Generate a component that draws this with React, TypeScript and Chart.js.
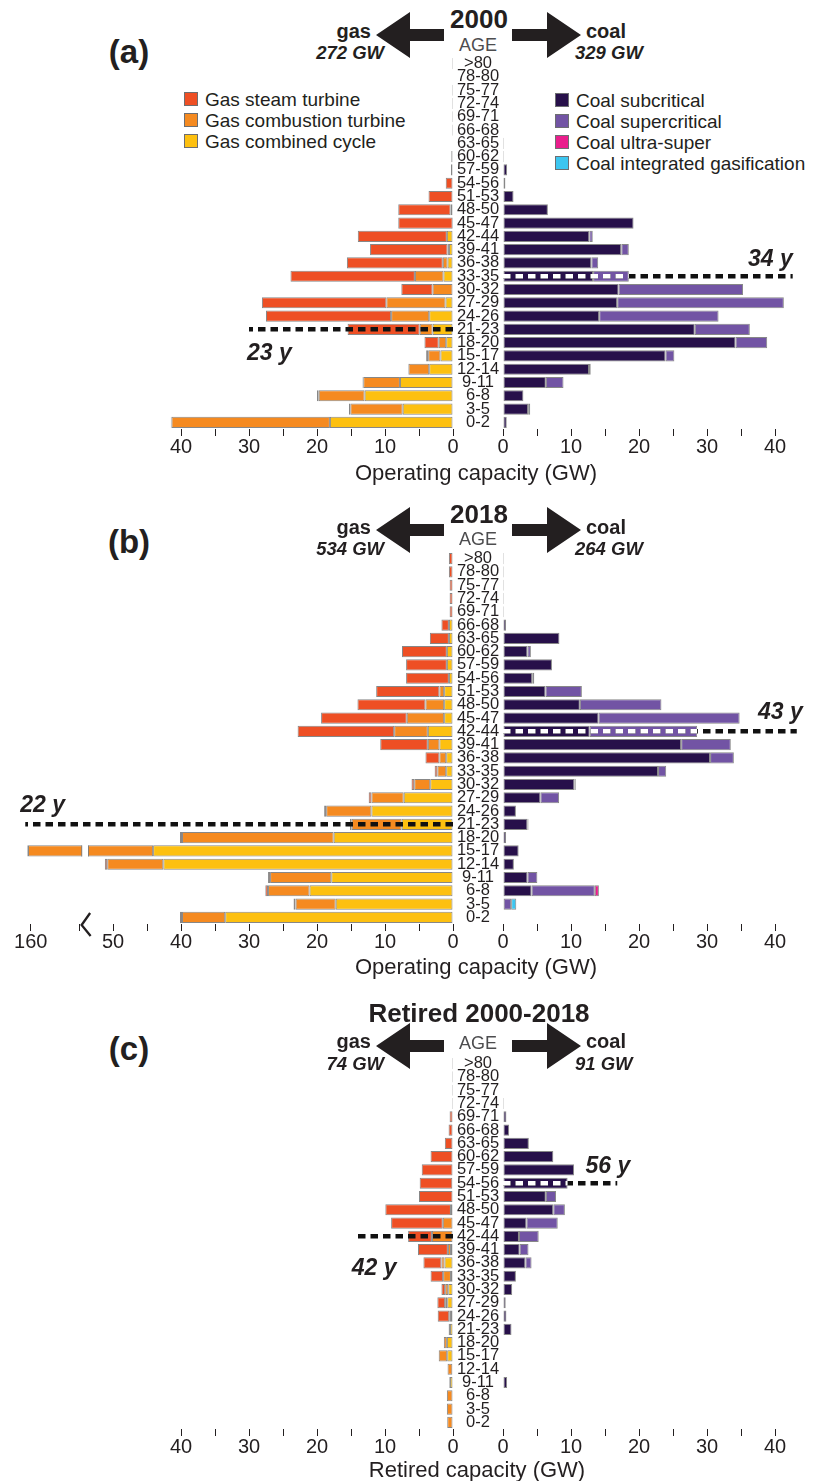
import React, { useEffect, useRef } from 'react';
import { Chart, registerables } from 'chart.js';

Chart.register(...registerables);

const FONT = '"Liberation Sans", Arial, Helvetica, sans-serif';
const FONT_NARROW = '"Liberation Sans Narrow", "Arial Narrow", "Liberation Sans", Arial, sans-serif';

// ---------------- DATA ----------------
const AGES = ['>80', '78-80', '75-77', '72-74', '69-71', '66-68', '63-65', '60-62', '57-59', '54-56',
  '51-53', '48-50', '45-47', '42-44', '39-41', '36-38', '33-35', '30-32', '27-29', '24-26',
  '21-23', '18-20', '15-17', '12-14', '9-11', '6-8', '3-5', '0-2'];

// (a) 2000 operating capacity, GW
const GAS_2000_STEAM = [0.15, 0, 0.15, 0.15, 0.15, 0.15, 0, 0.25, 0.3, 1.07, 3.6, 7.7, 8.0, 13.1, 11.4, 14.1, 18.3, 4.6, 18.3, 18.4, 10.6, 2.1, 0.3, 0.05, 0.1, 0.25, 0.2, 0.1];
const GAS_2000_CT = [0, 0, 0, 0, 0, 0, 0, 0, 0, 0, 0, 0, 0, 0, 0.2, 0.7, 4.2, 3.0, 8.7, 5.6, 1.9, 1.1, 1.8, 3.05, 5.4, 6.75, 7.7, 23.3];
const GAS_2000_CC = [0, 0, 0, 0, 0, 0, 0, 0, 0, 0, 0, 0.35, 0.05, 0.9, 0.6, 0.8, 1.4, 0, 1.1, 3.5, 3.0, 1.0, 1.85, 3.5, 7.8, 13.0, 7.4, 18.1];
const COAL_2000_SUB = [0, 0, 0, 0, 0, 0, 0.15, 0.15, 0.6, 0.35, 1.55, 6.6, 19.2, 12.7, 17.4, 13.0, 13.25, 17.0, 16.8, 14.15, 28.2, 34.2, 23.9, 12.65, 6.3, 3.0, 3.7, 0.55];
const COAL_2000_SUPER = [0, 0, 0, 0, 0, 0, 0, 0, 0, 0, 0, 0, 0, 0.5, 1.1, 1.0, 5.25, 18.3, 24.5, 17.55, 8.1, 4.65, 1.3, 0, 2.6, 0, 0, 0];
const COAL_2000_ULTRA = [0, 0, 0, 0, 0, 0, 0, 0, 0, 0, 0, 0, 0, 0, 0, 0, 0, 0, 0, 0, 0, 0, 0, 0, 0, 0, 0, 0];
const COAL_2000_IGCC = [0, 0, 0, 0, 0, 0, 0, 0, 0, 0, 0, 0, 0, 0, 0, 0, 0, 0, 0, 0, 0, 0, 0, 0.25, 0, 0, 0.3, 0];

// (b) 2018 operating capacity, GW
const GAS_2018_STEAM = [0.6, 0.6, 0.5, 0.5, 0.5, 1.1, 2.8, 6.6, 6.0, 6.3, 9.3, 10.0, 12.6, 14.2, 7.0, 2.05, 0.4, 0.4, 0.4, 0.3, 0.25, 0.3, 0.1, 0.35, 0.3, 0.4, 0.3, 0.3];
const GAS_2018_CT = [0, 0, 0, 0, 0, 0, 0, 0, 0, 0, 0.7, 2.75, 5.5, 4.95, 1.7, 1.0, 1.3, 2.35, 4.75, 6.65, 7.35, 22.3, 116.3, 8.25, 9.0, 6.1, 5.9, 6.35];
const GAS_2018_CC = [0, 0, 0, 0, 0, 0.6, 0.6, 0.9, 0.9, 0.6, 1.3, 1.3, 1.3, 3.7, 2.0, 1.0, 1.0, 3.35, 7.25, 12.0, 7.55, 17.55, 44.1, 42.6, 17.9, 21.1, 17.25, 33.5];
const COAL_2018_SUB = [0.15, 0.15, 0.15, 0.15, 0.15, 0.45, 8.3, 3.6, 7.2, 4.3, 6.25, 11.3, 14.05, 12.75, 26.2, 30.45, 22.8, 10.5, 5.5, 1.9, 3.6, 0.45, 2.3, 1.6, 3.6, 4.2, 0.1, 0];
const COAL_2018_SUPER = [0, 0, 0, 0, 0, 0, 0, 0.5, 0, 0.3, 5.35, 12.0, 20.75, 15.8, 7.3, 3.5, 1.2, 0, 2.75, 0, 0, 0, 0, 0, 1.45, 9.3, 1.1, 0];
const COAL_2018_ULTRA = [0, 0, 0, 0, 0, 0, 0, 0, 0, 0, 0, 0, 0, 0, 0, 0, 0, 0, 0, 0, 0, 0, 0, 0, 0, 0.6, 0, 0];
const COAL_2018_IGCC = [0, 0, 0, 0, 0, 0, 0, 0, 0, 0, 0, 0, 0, 0, 0, 0, 0, 0.2, 0, 0, 0.15, 0, 0, 0, 0, 0, 0.75, 0];

// (c) retired 2000-2018, GW
const GAS_RET_STEAM = [0.15, 0.15, 0.15, 0.15, 0.5, 0.65, 1.2, 3.3, 4.6, 4.8, 5.0, 9.65, 7.6, 3.5, 4.4, 2.65, 1.85, 0.55, 1.15, 1.7, 0.05, 0, 0, 0, 0, 0, 0, 0];
const GAS_RET_CT = [0, 0, 0, 0, 0, 0, 0, 0, 0, 0.1, 0, 0.3, 1.5, 3.1, 0.45, 0.45, 1.15, 0.45, 0.3, 0.25, 0.15, 0.45, 1.25, 0.7, 0.1, 0.9, 0.9, 0.85];
const GAS_RET_CC = [0, 0, 0, 0, 0, 0, 0, 0, 0, 0, 0, 0, 0, 0, 0.3, 1.25, 0.3, 0.7, 0.85, 0.3, 0.45, 0.9, 0.85, 0.1, 0.45, 0, 0, 0];
const COAL_RET_SUB = [0, 0, 0, 0.15, 0.5, 0.9, 3.8, 7.4, 10.45, 9.5, 6.3, 7.4, 3.45, 2.35, 2.45, 3.3, 1.9, 1.35, 0.4, 0.5, 1.25, 0, 0, 0, 0.6, 0, 0, 0];
const COAL_RET_SUPER = [0, 0, 0, 0, 0, 0, 0, 0, 0, 0, 1.5, 1.7, 4.6, 2.9, 1.3, 0.9, 0, 0, 0, 0, 0, 0, 0, 0, 0, 0, 0, 0];
const COAL_RET_ULTRA = [0, 0, 0, 0, 0, 0, 0, 0, 0, 0, 0, 0, 0, 0, 0, 0, 0, 0, 0, 0, 0, 0, 0, 0, 0, 0, 0, 0];
const COAL_RET_IGCC = [0, 0, 0, 0, 0, 0, 0, 0, 0, 0, 0, 0, 0, 0, 0, 0, 0, 0, 0, 0, 0, 0, 0, 0, 0, 0, 0, 0];

// Tick values (GW)
const TICKS_GW = [0, 5, 10, 15, 20, 25, 30, 35, 40];
const TICKS_GAS_2018 = [0, 5, 10, 15, 20, 25, 30, 35, 40, 45, 50, 55, 160];
const BREAK_SHIFT = 97.9;
const breakGas2018 = (v: number) => (v <= 56 ? v : v - BREAK_SHIFT);

// ---------------- STYLE ----------------
const C_STEAM = '#EE4F24';
const C_CT = '#F58A20';
const C_CC = '#FDC010';
const C_SUB = '#27104A';
const C_SUPER = '#7254A4';
const C_ULTRA = '#E91E8C';
const C_IGCC = '#3CC6F0';
const BORDER = 'rgba(105,105,105,0.8)';
const INK = '#231f20';

const PX_PER_GW = 6.8;
const ZERO_LEFT = 453;
const GAP = 50;
const PAGE_W = 817;
const ROWS_H = 372;
const PAD_TOP = 15;
const XAXIS_H = 36;
const LEFT_W = 470;
const RIGHT_W = PAGE_W - ZERO_LEFT;
const CANVAS_H = PAD_TOP + ROWS_H + XAXIS_H;

type Series = { label: string; data: number[]; color: string };
type Median = { row: string; extent: number; label: string; dx: number; dy: number; align: CanvasTextAlign; white: boolean };
type Spec = {
  side: 'left' | 'right';
  series: Series[];
  max: number;
  ticks: number[];
  map?: (v: number) => number;
  median: Median;
  brk?: { row: string; at: number; half: number };
};

function displaySeries(series: number[][], map?: (v: number) => number): number[][] {
  if (!map) return series;
  const out = series.map(() => [] as number[]);
  for (let i = 0; i < series[0].length; i++) {
    let cum = 0;
    let prev = 0;
    series.forEach((s, k) => {
      cum += s[i];
      const d = map(cum);
      out[k].push(d - prev);
      prev = d;
    });
  }
  return out;
}

const medianPlugin = {
  id: 'median',
  afterDatasetsDraw(chart: any, _args: any, opts: any) {
    if (!opts || !opts.row) return;
    const { ctx } = chart;
    const x = chart.scales.x;
    const y = chart.scales.y;
    const idx = AGES.indexOf(opts.row);
    const py = y.getPixelForValue(idx);
    const x0 = x.getPixelForValue(0);
    const x1 = x.getPixelForValue(opts.extent);
    ctx.save();
    ctx.setLineDash([7.5, 5]);
    ctx.lineWidth = 4.5;
    ctx.lineCap = 'butt';
    ctx.strokeStyle = '#111';
    ctx.beginPath();
    ctx.moveTo(x0, py);
    ctx.lineTo(x1, py);
    ctx.stroke();
    if (opts.white) {
      let total = 0;
      chart.data.datasets.forEach((ds: any) => { total += ds.data[idx]; });
      const xb = x.getPixelForValue(total);
      ctx.save();
      ctx.beginPath();
      ctx.rect(Math.min(x0, xb), py - 5, Math.abs(xb - x0), 10);
      ctx.clip();
      ctx.strokeStyle = '#fff';
      ctx.beginPath();
      ctx.moveTo(x0, py);
      ctx.lineTo(x1, py);
      ctx.stroke();
      ctx.restore();
    }
    ctx.setLineDash([]);
    ctx.font = `italic bold 23px ${FONT}`;
    ctx.fillStyle = INK;
    ctx.textAlign = opts.align;
    ctx.textBaseline = 'middle';
    ctx.fillText(opts.label, x1 + opts.dx, py + opts.dy);
    ctx.restore();
  },
};

const breakPlugin = {
  id: 'axisBreak',
  afterDatasetsDraw(chart: any, _args: any, opts: any) {
    if (!opts || !opts.row) return;
    const { ctx } = chart;
    const x = chart.scales.x;
    const y = chart.scales.y;
    const py = y.getPixelForValue(AGES.indexOf(opts.row));
    const xa = x.getPixelForValue(opts.at + opts.half);
    const xb = x.getPixelForValue(opts.at - opts.half);
    const h = (chart.chartArea.height / AGES.length) * 0.84 / 2;
    ctx.save();
    ctx.fillStyle = '#fff';
    ctx.fillRect(xa, py - h - 1, xb - xa, 2 * h + 2);
    ctx.strokeStyle = BORDER;
    ctx.lineWidth = 1;
    ctx.beginPath();
    ctx.moveTo(xa, py - h);
    ctx.lineTo(xa, py + h);
    ctx.moveTo(xb, py - h);
    ctx.lineTo(xb, py + h);
    ctx.stroke();
    ctx.restore();
  },
  afterDraw(chart: any, _args: any, opts: any) {
    if (!opts || !opts.row) return;
    const { ctx } = chart;
    const xm = chart.scales.x.getPixelForValue(opts.at);
    const b = chart.chartArea.bottom;
    ctx.save();
    ctx.strokeStyle = INK;
    ctx.lineWidth = 2.3;
    ctx.lineJoin = 'miter';
    ctx.beginPath();
    ctx.moveTo(xm + 5, b - 11);
    ctx.lineTo(xm - 3.5, b + 1);
    ctx.lineTo(xm + 5.5, b + 12);
    ctx.stroke();
    ctx.restore();
  },
};

function measureWidest(labels: string[], font: string): number {
  const c = document.createElement('canvas');
  const ctx = c.getContext('2d')!;
  ctx.font = font;
  return Math.max(...labels.map((l) => ctx.measureText(l).width));
}

function buildConfig(spec: Spec): any {
  const disp = displaySeries(spec.series.map((s) => s.data), spec.map);
  const datasets = spec.series.map((s, k) => ({
    label: s.label,
    data: disp[k],
    backgroundColor: s.color,
    borderColor: BORDER,
    borderWidth: 1,
    borderSkipped: false,
    barPercentage: 0.84,
    categoryPercentage: 1,
  }));
  const pos = spec.map || ((v: number) => v);
  const tickVals = spec.ticks.map(pos);
  const tickLabels = spec.ticks.map((v) => (v % 10 === 0 ? String(v) : ''));
  const isLeft = spec.side === 'left';
  const ageFontSize = 16.5;
  const widest = measureWidest(AGES, `normal 400 ${ageFontSize}px ${FONT_NARROW}`);
  const yPad = Math.max(0, GAP / 2 - widest / 2);

  return {
    type: 'bar',
    data: { labels: AGES, datasets },
    options: {
      indexAxis: 'y',
      animation: false,
      responsive: false,
      maintainAspectRatio: false,
      events: [],
      layout: {
        padding: isLeft
          ? { left: ZERO_LEFT - spec.max * PX_PER_GW, right: LEFT_W - ZERO_LEFT, top: PAD_TOP, bottom: 0 }
          : { left: 0, right: RIGHT_W - GAP - spec.max * PX_PER_GW, top: PAD_TOP, bottom: 0 },
      },
      scales: {
        x: {
          type: 'linear',
          min: 0,
          max: spec.max,
          reverse: isLeft,
          stacked: true,
          afterBuildTicks: (scale: any) => {
            scale.ticks = tickVals.map((v) => ({ value: v }));
          },
          ticks: {
            autoSkip: false,
            maxRotation: 0,
            minRotation: 0,
            padding: 1,
            color: INK,
            font: { family: FONT, size: 20, lineHeight: 1 },
            callback: (_v: any, i: number) => tickLabels[i],
          },
          grid: { display: true, drawOnChartArea: false, drawTicks: true, tickLength: 7, color: INK, lineWidth: 1 },
          border: { display: false },
          afterFit: (scale: any) => { scale.height = XAXIS_H; },
        },
        y: isLeft
          ? { type: 'category', stacked: true, display: false, offset: true, grid: { display: false } }
          : {
            type: 'category',
            stacked: true,
            position: 'left',
            offset: true,
            grid: { display: false, drawTicks: false, tickLength: 0 },
            border: { display: false },
            ticks: {
              autoSkip: false,
              crossAlign: 'center',
              padding: yPad,
              color: INK,
              font: { family: FONT_NARROW, size: ageFontSize, lineHeight: 0.9 },
            },
            afterFit: (scale: any) => { scale.width = GAP; },
          },
      },
      plugins: {
        legend: { display: false },
        tooltip: { enabled: false },
        median: spec.median,
        axisBreak: spec.brk || {},
      },
    },
    plugins: [medianPlugin, breakPlugin],
  };
}

function HalfChart({ spec, top }: { spec: Spec; top: number }) {
  const ref = useRef<HTMLCanvasElement>(null);
  useEffect(() => {
    const chart = new Chart(ref.current as HTMLCanvasElement, buildConfig(spec));
    return () => chart.destroy();
  }, [spec, top]);
  const w = spec.side === 'left' ? LEFT_W : RIGHT_W;
  const left = spec.side === 'left' ? 0 : ZERO_LEFT;
  return (
    <canvas
      ref={ref}
      width={w}
      height={CANVAS_H}
      style={{ position: 'absolute', left, top, width: w, height: CANVAS_H }}
    />
  );
}

const gasSeries = (cc: number[], ct: number[], st: number[]): Series[] => [
  { label: 'Gas combined cycle', data: cc, color: C_CC },
  { label: 'Gas combustion turbine', data: ct, color: C_CT },
  { label: 'Gas steam turbine', data: st, color: C_STEAM },
];
const coalSeries = (sub: number[], sup: number[], ultra: number[], igcc: number[]): Series[] => [
  { label: 'Coal subcritical', data: sub, color: C_SUB },
  { label: 'Coal supercritical', data: sup, color: C_SUPER },
  { label: 'Coal ultra-super', data: ultra, color: C_ULTRA },
  { label: 'Coal integrated gasification', data: igcc, color: C_IGCC },
];

const SPEC_A_L: Spec = {
  side: 'left', series: gasSeries(GAS_2000_CC, GAS_2000_CT, GAS_2000_STEAM), max: 42.5, ticks: TICKS_GW,
  median: { row: '21-23', extent: 30, label: '23 y', dx: -2, dy: 24, align: 'left', white: false },
};
const SPEC_A_R: Spec = {
  side: 'right', series: coalSeries(COAL_2000_SUB, COAL_2000_SUPER, COAL_2000_ULTRA, COAL_2000_IGCC), max: 43, ticks: TICKS_GW,
  median: { row: '33-35', extent: 42.6, label: '34 y', dx: 0, dy: -17, align: 'right', white: true },
};
const SPEC_B_L: Spec = {
  side: 'left', series: gasSeries(GAS_2018_CC, GAS_2018_CT, GAS_2018_STEAM), max: 63.3, ticks: TICKS_GAS_2018,
  map: breakGas2018,
  median: { row: '21-23', extent: 62.9, label: '22 y', dx: -5, dy: -19, align: 'left', white: false },
  brk: { row: '15-17', at: 54.1, half: 0.5 },
};
const SPEC_B_R: Spec = {
  side: 'right', series: coalSeries(COAL_2018_SUB, COAL_2018_SUPER, COAL_2018_ULTRA, COAL_2018_IGCC), max: 43, ticks: TICKS_GW,
  median: { row: '42-44', extent: 43.2, label: '43 y', dx: 6, dy: -19, align: 'right', white: true },
};
const SPEC_C_L: Spec = {
  side: 'left', series: gasSeries(GAS_RET_CC, GAS_RET_CT, GAS_RET_STEAM), max: 42.5, ticks: TICKS_GW,
  median: { row: '42-44', extent: 14, label: '42 y', dx: -6, dy: 32, align: 'left', white: false },
};
const SPEC_C_R: Spec = {
  side: 'right', series: coalSeries(COAL_RET_SUB, COAL_RET_SUPER, COAL_RET_ULTRA, COAL_RET_IGCC), max: 43, ticks: TICKS_GW,
  median: { row: '54-56', extent: 16.8, label: '56 y', dx: 13, dy: -17, align: 'right', white: true },
};

// ---------------- OVERLAY TEXT ----------------
function Txt({ x, y, children, size, weight = 400, italic = false, align = 'left', color = INK, family = FONT }:
  { x: number; y: number; children: React.ReactNode; size: number; weight?: number; italic?: boolean; align?: 'left' | 'center' | 'right'; color?: string; family?: string }) {
  const tx = align === 'center' ? '-50%' : align === 'right' ? '-100%' : '0';
  return (
    <div
      style={{
        position: 'absolute', left: x, top: y, transform: `translate(${tx},-50%)`,
        fontFamily: family, fontSize: size, fontWeight: weight, fontStyle: italic ? 'italic' : 'normal',
        color, whiteSpace: 'nowrap', lineHeight: 1,
      }}
    >
      {children}
    </div>
  );
}

function Arrows({ cy }: { cy: number }) {
  const l = `376,${cy} 410,${cy - 23} 410,${cy - 6} 444,${cy - 6} 444,${cy + 6} 410,${cy + 6} 410,${cy + 23}`;
  const r = `581,${cy} 547,${cy - 23} 547,${cy - 6} 512,${cy - 6} 512,${cy + 6} 547,${cy + 6} 547,${cy + 23}`;
  return (
    <svg width={PAGE_W} height={60} viewBox={`0 ${cy - 30} ${PAGE_W} 60`}
      style={{ position: 'absolute', left: 0, top: cy - 30 }}>
      <polygon points={l} fill={INK} />
      <polygon points={r} fill={INK} />
    </svg>
  );
}

function Header({ title, tag, gas, coal, yTitle, yAge, yGas, yGw, yArrow, yTag }:
  { title: string; tag: string; gas: string; coal: string; yTitle: number; yAge: number; yGas: number; yGw: number; yArrow: number; yTag: number }) {
  return (
    <>
      <Arrows cy={yArrow} />
      <Txt x={479} y={yTitle} size={26} weight={700} align="center">{title}</Txt>
      <Txt x={478} y={yAge} size={18} align="center" color="#4d4d4f" family={FONT_NARROW}>AGE</Txt>
      <Txt x={129} y={yTag} size={33} weight={700} align="center">{tag}</Txt>
      <Txt x={371} y={yGas} size={20} weight={700} align="right">gas</Txt>
      <Txt x={384} y={yGw} size={18.5} weight={700} italic align="right">{gas}</Txt>
      <Txt x={586} y={yGas} size={20} weight={700}>coal</Txt>
      <Txt x={575} y={yGw} size={18.5} weight={700} italic>{coal}</Txt>
    </>
  );
}

const LEGEND_GAS = [
  { label: 'Gas steam turbine', color: C_STEAM },
  { label: 'Gas combustion turbine', color: C_CT },
  { label: 'Gas combined cycle', color: C_CC },
];
const LEGEND_COAL = [
  { label: 'Coal subcritical', color: C_SUB },
  { label: 'Coal supercritical', color: C_SUPER },
  { label: 'Coal ultra-super', color: C_ULTRA },
  { label: 'Coal integrated gasification', color: C_IGCC },
];

function Legend({ items, x, y0, dy }: { items: { label: string; color: string }[]; x: number; y0: number; dy: number }) {
  return (
    <>
      {items.map((it, i) => (
        <React.Fragment key={it.label}>
          <div style={{
            position: 'absolute', left: x, top: y0 + i * dy - 7, width: 14, height: 14,
            background: it.color, boxSizing: 'border-box', border: '1px solid #6d6e71',
          }} />
          <Txt x={x + 21} y={y0 + i * dy} size={19}>{it.label}</Txt>
        </React.Fragment>
      ))}
    </>
  );
}

const T_A = 56.5;
const T_B = 551.5;
const T_C = 1057;

export default function App() {
  useEffect(() => {
    document.body.style.margin = '0';
  }, []);
  return (
    <div style={{ position: 'absolute', left: 0, top: 0, width: PAGE_W, height: 1481, background: '#fff', overflow: 'hidden' }}>
      <Header title="2000" tag="(a)" gas="272 GW" coal="329 GW" yTitle={19} yAge={45} yGas={31} yGw={53} yArrow={35} yTag={51} />
      <Legend items={LEGEND_GAS} x={184} y0={99} dy={21} />
      <Legend items={LEGEND_COAL} x={555} y0={100} dy={21} />
      <HalfChart spec={SPEC_A_L} top={T_A - PAD_TOP} />
      <HalfChart spec={SPEC_A_R} top={T_A - PAD_TOP} />
      <Txt x={476} y={473} size={22} align="center">Operating capacity (GW)</Txt>

      <Header title="2018" tag="(b)" gas="534 GW" coal="264 GW" yTitle={514} yAge={539} yGas={527} yGw={549} yArrow={530} yTag={541} />
      <HalfChart spec={SPEC_B_L} top={T_B - PAD_TOP} />
      <HalfChart spec={SPEC_B_R} top={T_B - PAD_TOP} />
      <Txt x={476} y={967} size={22} align="center">Operating capacity (GW)</Txt>

      <Header title="Retired 2000-2018" tag="(c)" gas="74 GW" coal="91 GW" yTitle={1013} yAge={1043} yGas={1041} yGw={1064} yArrow={1046} yTag={1048} />
      <HalfChart spec={SPEC_C_L} top={T_C - PAD_TOP} />
      <HalfChart spec={SPEC_C_R} top={T_C - PAD_TOP} />
      <Txt x={477} y={1470} size={22} align="center">Retired capacity (GW)</Txt>
    </div>
  );
}
